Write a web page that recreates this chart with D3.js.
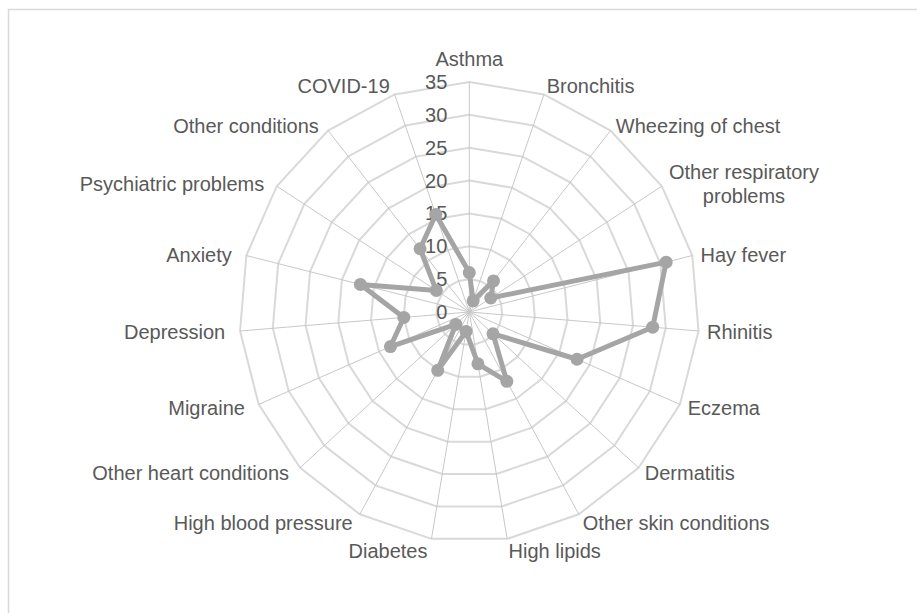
<!DOCTYPE html>
<html>
<head>
<meta charset="utf-8">
<script src="https://cdn.jsdelivr.net/npm/d3@7/dist/d3.min.js"></script>
<style>
  html, body { margin: 0; padding: 0; background: #ffffff; }
  svg { display: block; }
  text { font-family: "Liberation Sans Narrow", "Arial Narrow", "Liberation Sans", sans-serif; fill: #595959; }
</style>
</head>
<body>
<svg id="chart" width="917" height="613"></svg>
<script>
// ---- data ----
const categories = [
  "Asthma", "Bronchitis", "Wheezing of chest", "Other respiratory problems",
  "Hay fever", "Rhinitis", "Eczema", "Dermatitis", "Other skin conditions",
  "High lipids", "Diabetes", "High blood pressure", "Other heart conditions",
  "Migraine", "Depression", "Anxiety", "Psychiatric problems",
  "Other conditions", "COVID-19"
];
const values = [6, 1.8, 6, 3.9, 30.9, 28, 17.9, 4.9, 12, 8, 3, 10.1, 2.8, 13.1, 10, 17.1, 6, 12.2, 15.7];
const tickValues = [0, 5, 10, 15, 20, 25, 30, 35];

// ---- layout ----
const W = 917, H = 613;
const cx = 469.3, cy = 312, R = 230;
const svg = d3.select("#chart");

svg.append("rect")
  .attr("x", 8.5).attr("y", 9.5)
  .attr("width", W + 20).attr("height", H + 20)
  .attr("fill", "none").attr("stroke", "#d9d9d9").attr("stroke-width", 1.5);

const rScale = d3.scaleLinear().domain([0, 35]).range([0, R]);
const angle = d3.scaleLinear().domain([0, categories.length]).range([0, 2 * Math.PI]);

const g = svg.append("g").attr("transform", `translate(${cx},${cy})`);

const pt = (i, v) => {
  const a = angle(i), r = rScale(v);
  return [r * Math.sin(a), -r * Math.cos(a)];
};

// rings
const ringLine = d3.line().curve(d3.curveLinearClosed);
g.selectAll("path.ring")
  .data(tickValues.filter(t => t > 0))
  .join("path")
  .attr("class", "ring")
  .attr("d", t => ringLine(categories.map((c, i) => pt(i, t))))
  .attr("fill", "none")
  .attr("stroke", "#d9d9d9")
  .attr("stroke-width", 2);

// spokes
g.selectAll("line.spoke")
  .data(categories)
  .join("line")
  .attr("class", "spoke")
  .attr("x1", 0).attr("y1", 0)
  .attr("x2", (c, i) => pt(i, 35)[0])
  .attr("y2", (c, i) => pt(i, 35)[1])
  .attr("stroke", "#c8c8c8")
  .attr("stroke-width", 1);

// tick labels
g.selectAll("text.tick")
  .data(tickValues)
  .join("text")
  .attr("class", "tick")
  .attr("x", -22)
  .attr("y", t => -rScale(t))
  .attr("text-anchor", "end")
  .attr("dominant-baseline", "central")
  .attr("font-size", 20)
  .text(t => t);

// series
const seriesLine = d3.line().curve(d3.curveLinearClosed);
g.append("path")
  .attr("d", seriesLine(values.map((v, i) => pt(i, v))))
  .attr("fill", "none")
  .attr("stroke", "#a5a5a5")
  .attr("stroke-width", 5)
  .attr("stroke-linejoin", "round");

g.selectAll("circle.marker")
  .data(values)
  .join("circle")
  .attr("class", "marker")
  .attr("cx", (v, i) => pt(i, v)[0])
  .attr("cy", (v, i) => pt(i, v)[1])
  .attr("r", 6.5)
  .attr("fill", "#a5a5a5");

// category labels
const wrapMap = { "Other respiratory problems": ["Other respiratory", "problems"] };
categories.forEach((c, i) => {
  const a = angle(i);
  const s = Math.sin(a), co = Math.cos(a);
  const [ox, oy] = pt(i, 35);
  let anchor, x, y;
  if (Math.abs(s) < 0.05) {
    anchor = "middle"; x = ox; y = oy - 23;
  } else {
    anchor = s > 0 ? "start" : "end";
    const gap = s > 0 ? Math.max(1, 8.5 * Math.abs(s)) : Math.max(4, 15 * Math.abs(s));
    x = ox + (s > 0 ? gap : -gap);
    y = oy - (6 * co + 6 * Math.sign(co) * Math.pow(Math.abs(co), 8)) + 1;
  }
  const lines = wrapMap[c] || [c];
  const t = g.append("text")
    .attr("class", "cat")
    .attr("text-anchor", lines.length > 1 ? "middle" : anchor)
    .attr("font-size", 20)
    .attr("dominant-baseline", "central");
  if (lines.length > 1) {
    const lh = 24.5;
    const tmp = t.append("tspan").text(lines[0]);
    const w = tmp.node().getComputedTextLength();
    tmp.remove();
    const mx = anchor === "start" ? x + w / 2 : x - w / 2;
    lines.forEach((ln, k) => {
      t.append("tspan")
        .attr("x", mx)
        .attr("y", y + (k - (lines.length - 1) / 2) * lh)
        .text(ln);
    });
  } else {
    t.attr("x", x).attr("y", y).text(c);
  }
});
</script>
</body>
</html>
